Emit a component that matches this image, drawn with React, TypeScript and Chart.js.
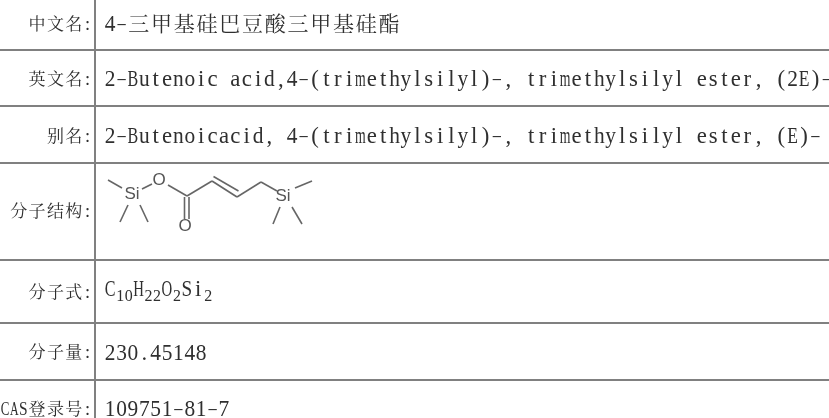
import React, { useEffect, useRef } from "react";
import { Chart, registerables } from "chart.js";

Chart.register(...registerables);

const rowLabels = ["中文名:", "英文名:", "别名:", "分子结构:", "分子式:", "分子量:", "CAS登录号:"];
const rowValues = [
  "4-三甲基硅巴豆酸三甲基硅酯",
  "2-Butenoic acid,4-(trimethylsilyl)-, trimethylsilyl ester, (2E)-",
  "2-Butenoicacid, 4-(trimethylsilyl)-, trimethylsilyl ester, (E)-",
  "",
  "",
  "230.45148",
  "109751-81-7",
];
const labelBaselines = [30, 85, 142, 217, 298, 358, 415];
const valueBaselines = [31, 86, 143, 0, 296, 360, 416];
const rowBoundaries = [50, 106, 163, 260, 322.5, 379.5];
const columnBoundaries = [95];
const formulaParts = [
  ["C", false], ["10", true], ["H", false], ["22", true], ["O", false], ["2", true], ["Si", false], ["2", true],
] as [string, boolean][];

const bonds = [
  [[108, 180], [122, 188]],
  [[142, 189], [152, 184]],
  [[168, 185], [187, 196]],
  [[184.5, 197], [184.5, 219]],
  [[189, 197], [189, 219]],
  [[187, 196], [212, 181]],
  [[212, 181], [237, 197]],
  [[213.5, 176.5], [238.5, 191]],
  [[237, 197], [261, 182]],
  [[261, 182], [277, 191]],
  [[295, 188], [312, 181]],
  [[280, 207], [273, 224]],
  [[292, 207], [302, 224]],
  [[128, 205], [120, 222]],
  [[140, 205], [148, 222]],
];
const atoms = [
  ["Si", 132, 194],
  ["O", 159, 180],
  ["O", 185, 226],
  ["Si", 283, 196],
] as [string, number, number][];

const isWide = (c: string) => c.charCodeAt(0) > 0x2e7f;
const CJK = '"Noto Serif CJK SC", "Noto Sans CJK SC", sans-serif';
const LATIN = '"Liberation Serif", serif';

function drawRun(ctx: CanvasRenderingContext2D, text: string, x: number, y: number, em: number, color: string) {
  let pen = x;
  ctx.fillStyle = color;
  ctx.textBaseline = "alphabetic";
  ctx.textAlign = "left";
  for (const c of text) {
    if (isWide(c)) {
      ctx.font = `${Math.round(em * 0.92)}px ${CJK}`;
      const w = ctx.measureText(c).width;
      ctx.fillText(c, pen + (em - w) / 2, y - em * 0.02);
      pen += em;
    } else {
      const half = em / 2;
      ctx.save();
      ctx.font = `${em}px ${LATIN}`;
      const w = ctx.measureText(c).width;
      const target = half * 0.94;
      let sx = 1;
      if (c === "-") sx = target / w;
      else if (w > target) sx = target / w;
      ctx.translate(pen + (half - w * sx) / 2, y - (c === "-" ? em * 0.12 : 0));
      ctx.scale(sx, c === "-" ? 0.6 : 1);
      ctx.fillText(c, 0, 0);
      ctx.restore();
      pen += half;
    }
  }
  return pen;
}

const runWidth = (text: string, em: number) =>
  [...text].reduce((s, c) => s + (isWide(c) ? em : em / 2), 0);

const tablePlugin = {
  id: "tableText",
  afterDraw(chart: any) {
    const { ctx, scales } = chart;
    const px = (v: number) => scales.x.getPixelForValue(v);
    const py = (v: number) => scales.y.getPixelForValue(v);
    ctx.save();
    const textColor = "#2f2f2f";
    rowLabels.forEach((t, i) => {
      drawRun(ctx, t, px(92) - runWidth(t, 18.3), py(labelBaselines[i]), 18.3, textColor);
    });
    rowValues.forEach((t, i) => {
      if (t) drawRun(ctx, t, px(104.5), py(valueBaselines[i]), 22.75, textColor);
    });
    let pen = px(104.5);
    formulaParts.forEach(([t, sub]) => {
      pen = drawRun(ctx, t, pen, py(valueBaselines[4] + (sub ? 5 : 0)), sub ? 17 : 22.75, textColor);
    });
    ctx.font = '17px "Liberation Sans", Arial, sans-serif';
    ctx.fillStyle = "#555555";
    ctx.textAlign = "center";
    ctx.textBaseline = "middle";
    atoms.forEach(([t, x, y]) => ctx.fillText(t, px(x), py(y)));
    ctx.restore();
  },
};

export default function App() {
  const ref = useRef<HTMLCanvasElement>(null);
  useEffect(() => {
    const chart = new Chart(ref.current!, {
      type: "scatter",
      data: {
        datasets: bonds.map((b) => ({
          data: b.map(([x, y]) => ({ x, y })),
          showLine: true,
          borderColor: "#666666",
          borderWidth: 1.6,
          pointRadius: 0,
        })),
      },
      options: {
        animation: false,
        responsive: false,
        layout: { padding: 0 },
        plugins: { legend: { display: false }, tooltip: { enabled: false } },
        scales: {
          x: {
            type: "linear",
            min: 0,
            max: 829,
            border: { display: false },
            ticks: { display: false },
            grid: { color: "#808080", lineWidth: 2, drawTicks: false },
            afterBuildTicks: (s: any) => {
              s.ticks = columnBoundaries.map((value) => ({ value }));
            },
          },
          y: {
            type: "linear",
            min: 0,
            max: 418,
            reverse: true,
            border: { display: false },
            ticks: { display: false },
            grid: { color: "#808080", lineWidth: 2, drawTicks: false },
            afterBuildTicks: (s: any) => {
              s.ticks = rowBoundaries.map((value) => ({ value }));
            },
          },
        },
      },
      plugins: [tablePlugin],
    } as any);
    return () => chart.destroy();
  }, []);
  return (
    <div style={{ position: "fixed", left: 0, top: 0, width: 829, height: 418, background: "#fff" }}>
      <canvas ref={ref} width={829} height={418} style={{ display: "block" }} />
    </div>
  );
}
